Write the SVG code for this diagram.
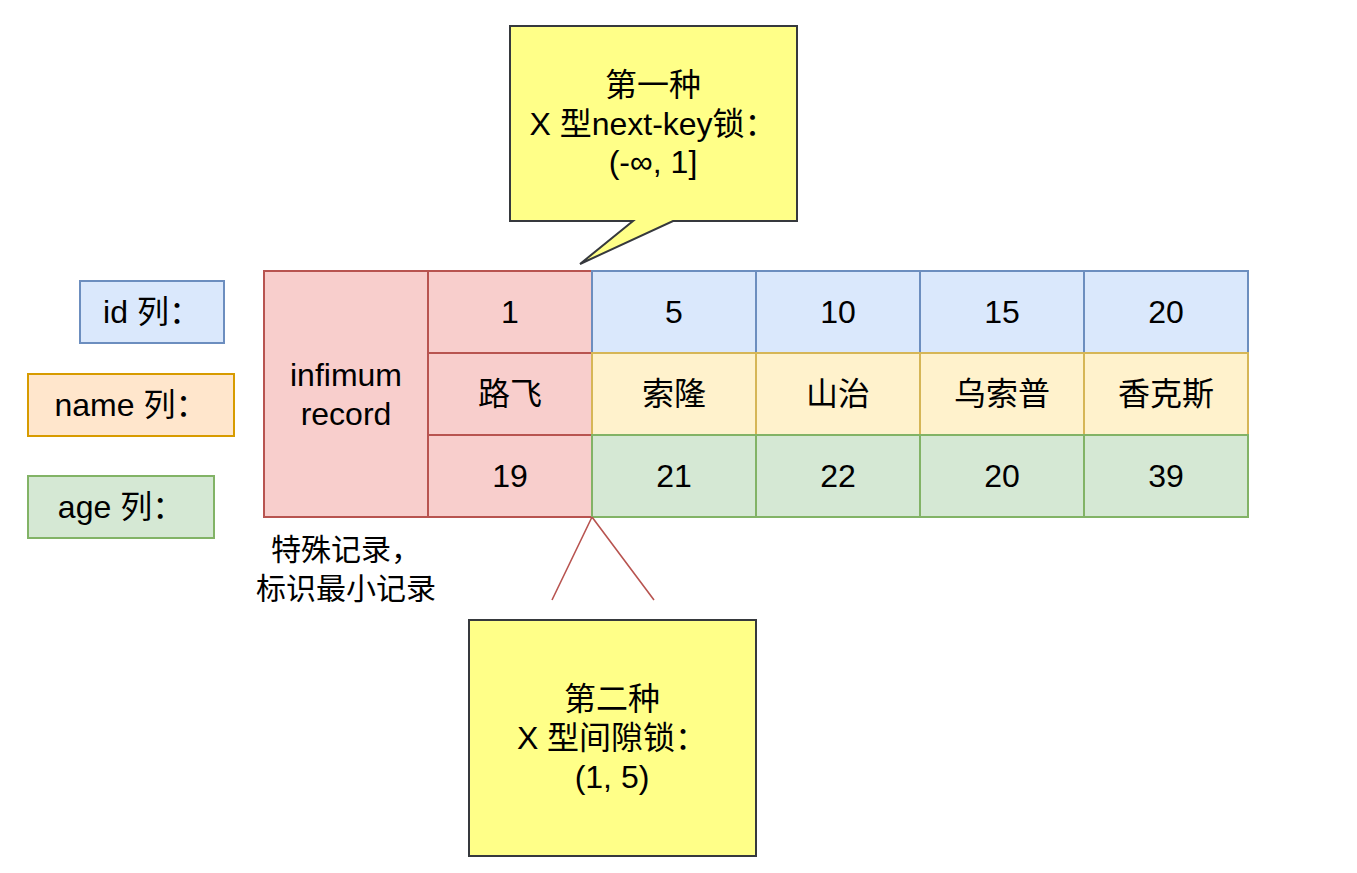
<svg xmlns="http://www.w3.org/2000/svg" width="1357" height="873" viewBox="0 0 1357 873">
<style>
text{font-family:"Liberation Sans","Noto Sans CJK SC",sans-serif;font-size:32px;fill:#000;text-anchor:middle}
.note{font-size:30px}
.red{fill:#f8cecc;stroke:#b85450;stroke-width:2}
.blue{fill:#dae8fc;stroke:#6c8ebf;stroke-width:2}
.yel{fill:#fff2cc;stroke:#d6b656;stroke-width:2}
.grn{fill:#d5e8d4;stroke:#82b366;stroke-width:2}
.org{fill:#ffe6cc;stroke:#d79b00;stroke-width:2}
.call{fill:#ffff88;stroke:#36393d;stroke-width:2}
.ln{fill:none;stroke:#b85450;stroke-width:1.6}
</style>
<rect width="1357" height="873" fill="#fff"/>
<g id="label-id"><rect class="blue" x="80" y="281" width="144" height="62"/><text x="152" y="323">id 列：</text></g>
<g id="label-name"><rect class="org" x="28" y="374" width="206" height="62"/><text x="131" y="416">name 列：</text></g>
<g id="label-age"><rect class="grn" x="28" y="476" width="186" height="62"/><text x="121" y="518">age 列：</text></g>
<g id="infimum"><rect class="red" x="264" y="271" width="164" height="246"/><text x="346" y="386">infimum</text><text x="346" y="425">record</text></g>
<g id="rec1">
<rect class="red" x="428" y="271" width="164" height="82"/><text x="510" y="323">1</text>
<rect class="red" x="428" y="353" width="164" height="82"/><text x="510" y="405">路飞</text>
<rect class="red" x="428" y="435" width="164" height="82"/><text x="510" y="487">19</text>
</g>
<g id="rec5">
<rect class="blue" x="592" y="271" width="164" height="82"/><text x="674" y="323">5</text>
<rect class="yel" x="592" y="353" width="164" height="82"/><text x="674" y="405">索隆</text>
<rect class="grn" x="592" y="435" width="164" height="82"/><text x="674" y="487">21</text>
</g>
<g id="rec10">
<rect class="blue" x="756" y="271" width="164" height="82"/><text x="838" y="323">10</text>
<rect class="yel" x="756" y="353" width="164" height="82"/><text x="838" y="405">山治</text>
<rect class="grn" x="756" y="435" width="164" height="82"/><text x="838" y="487">22</text>
</g>
<g id="rec15">
<rect class="blue" x="920" y="271" width="164" height="82"/><text x="1002" y="323">15</text>
<rect class="yel" x="920" y="353" width="164" height="82"/><text x="1002" y="405">乌索普</text>
<rect class="grn" x="920" y="435" width="164" height="82"/><text x="1002" y="487">20</text>
</g>
<g id="rec20">
<rect class="blue" x="1084" y="271" width="164" height="82"/><text x="1166" y="323">20</text>
<rect class="yel" x="1084" y="353" width="164" height="82"/><text x="1166" y="405">香克斯</text>
<rect class="grn" x="1084" y="435" width="164" height="82"/><text x="1166" y="487">39</text>
</g>
<g id="note"><text class="note" x="346" y="560">特殊记录，</text><text class="note" x="346" y="599">标识最小记录</text></g>
<g id="connectors"><path class="ln" d="M592,517 L552,600 M592,517 L654,600"/></g>
<g id="callout1"><path class="call" d="M510,26 H797 V221 H673 L580,264 L633,221 H510 Z"/>
<text x="653" y="96">第一种</text><text x="653" y="135">X 型next-key锁：</text><text x="653" y="173">(-∞, 1]</text></g>
<g id="callout2"><rect class="call" x="469" y="620" width="287" height="236"/>
<text x="612" y="710">第二种</text><text x="612" y="749">X 型间隙锁：</text><text x="612" y="788">(1, 5)</text></g>
</svg>
